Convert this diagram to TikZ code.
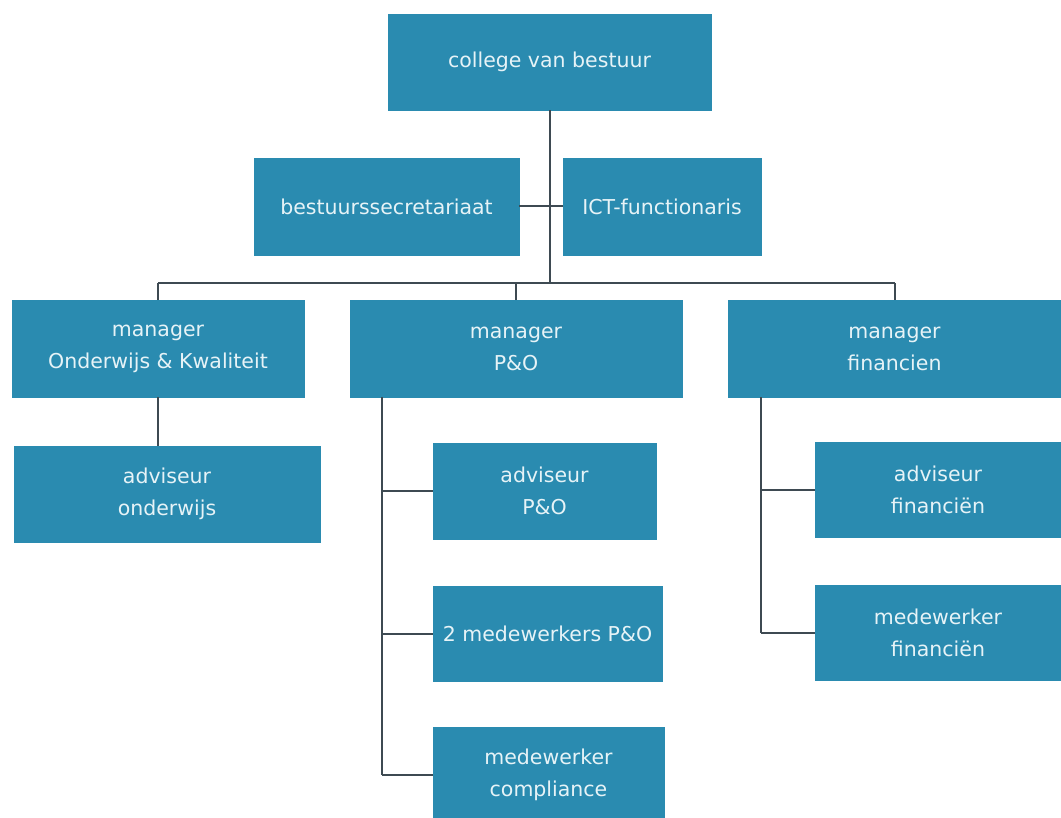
\documentclass[tikz,border=0pt]{standalone}
\usepackage{fontspec}
\setmainfont{DejaVu Sans}
\usepackage{xcolor}
\usepackage{tikz}
\usetikzlibrary{calc}
\definecolor{boxblue}{HTML}{2A8BB0}
\definecolor{boxtext}{HTML}{E6F3F7}
\definecolor{wire}{HTML}{3E4A52}
\tikzset{
  unit/.style={draw=boxblue, fill=boxblue, text=boxtext, align=center,
    inner sep=0pt, font=\fontsize{20.5}{32}\selectfont},
  link/.style={draw=wire, line width=2pt},
}
\begin{document}
\begin{tikzpicture}[x=1pt,y=-1pt]
  \useasboundingbox[fill=white] (0,0) rectangle (1061,818);

  \node[unit,minimum width=323,minimum height=96] (cvb) at (549.5,62) {college van bestuur};
  \node[unit,minimum width=265,minimum height=97] (secr) at (386.5,206.5) {bestuurssecretariaat};
  \node[unit,minimum width=198,minimum height=97] (ict) at (662,206.5) {ICT-functionaris};

  \node[unit,minimum width=292,minimum height=97] (mok) at (158,348.5) {manager\\Onderwijs \& Kwaliteit};
  \node[unit,minimum width=332,minimum height=97] (mpo) at (516,348.5) {manager\\P\&O};
  \node[unit,minimum width=333,minimum height=97] (mfin) at (894.5,348.5) {manager\\financien};

  \node[unit,minimum width=306,minimum height=96] (aond) at (167,494) {adviseur\\onderwijs};

  \node[unit,minimum width=223,minimum height=96] (apo) at (544.5,491) {adviseur\\P\&O};
  \node[unit,minimum width=229,minimum height=95] (mwpo) at (547.5,633.5) {2 medewerkers P\&O};
  \node[unit,minimum width=231,minimum height=96] (comp) at (548.5,775) {medewerker\\compliance};

  \node[unit,minimum width=246,minimum height=95] (afin) at (938,489.5) {adviseur\\financi\"en};
  \node[unit,minimum width=246,minimum height=95] (mwfin) at (938,632.5) {medewerker\\financi\"en};

  \coordinate (bus) at ($(cvb.south)+(0,173)$); % horizontal bus
  \coordinate (pobr) at ($(mpo.south west)+(32,0)$);
  \coordinate (finbr) at ($(mfin.south west)+(33,0)$);

  \draw[link] (cvb.south) -- (bus);
  \draw[link] (secr.east) -- (ict.west);
  \draw[link] (mok.north |- bus) -- (mfin.north |- bus);
  \foreach \m in {mok,mpo,mfin}
    \draw[link] (\m.north |- bus) -- (\m.north);
  \draw[link] (mok.south) -- (mok.south |- aond.north);

  \draw[link] (pobr) -- (pobr |- comp.west);
  \foreach \s in {apo,mwpo,comp}
    \draw[link] (pobr |- \s.west) -- (\s.west);

  \draw[link] (finbr) -- (finbr |- mwfin.west);
  \foreach \s in {afin,mwfin}
    \draw[link] (finbr |- \s.west) -- (\s.west);
\end{tikzpicture}
\end{document}
